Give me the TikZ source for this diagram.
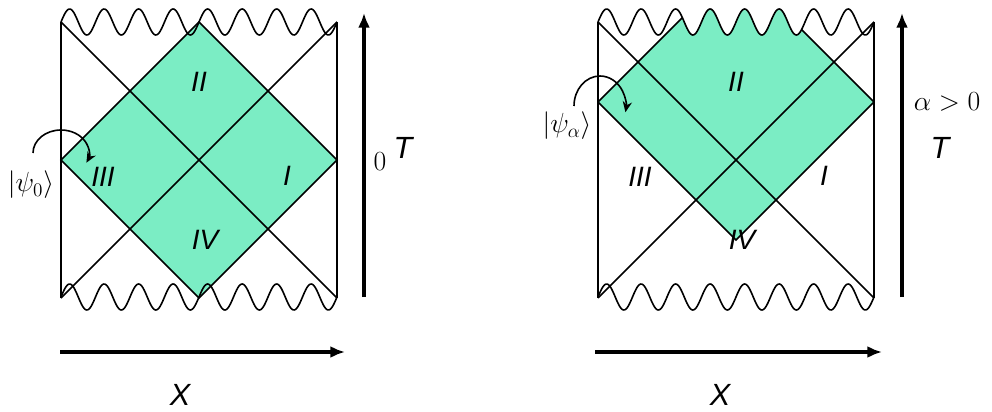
\documentclass[tikz,border=0pt]{standalone}
\usepackage{fontspec}
\newfontfamily\helv{Liberation Sans}
\usetikzlibrary{arrows.meta}
\definecolor{regiongreen}{RGB}{123,237,196}

\begin{document}
\begin{tikzpicture}[x=0.75pt,y=0.75pt,
  diag/.style={line width=1.2pt},
  axis/.style={line width=2.5pt,-{Latex[length=11pt,width=9pt]}},
  turn/.style={line width=1.2pt,-{Stealth[length=8pt,width=7pt]}},
  region/.style={font=\helv\itshape\fontsize{21}{25}\selectfont},
  axislabel/.style={font=\helv\itshape\fontsize{23}{27}\selectfont},
  mathlabel/.style={font=\fontsize{22}{26}\selectfont}]
\useasboundingbox (0,0) rectangle (992,411);

% alpha = 0
\begin{scope}[shift={(61,113)}]
\fill[regiongreen] (0,138) -- (138,276) -- (276,138) -- (138,0) -- cycle;
\draw[diag] (0,138) -- (138,276) -- (276,138) -- (138,0) -- cycle;
\draw[diag] (0,0) -- (0,276);
\draw[diag] (276,0) -- (276,276);
\draw[diag] (0,0) -- (276,276);
\draw[diag] (0,276) -- (276,0);
\draw[diag] plot[domain=0:276,samples=240,smooth] (\x,{276+13*sin(\x*10.43478)});
\draw[diag] plot[domain=0:276,samples=240,smooth] (\x,{1+13*sin(\x*10.43478)});
\node[region] (lII) at (138,216) {II};
\node[region] (lIII) at (42,121) {III};
\node[region] (lI) at (226,122) {I};
\node[region] (lIV) at (144,58) {IV};
\draw[turn] (-28,145) arc[start angle=180,end angle=-25,x radius=28,y radius=23];
\node[mathlabel] (lket) at (-30,113) {$|\psi_0\rangle$};
\draw[axis] (303,1) -- (303,285);
\draw[axis] (-1,-54) -- (284,-54);
\node[mathlabel] (lzero) at (319,136) {$0$};
\node[axislabel] (lT) at (342,150) {T};
\node[axislabel] (lX) at (119,-97) {X};
\end{scope}

% alpha > 0
\begin{scope}[shift={(598,113)}]
\begin{scope}
\clip (0,0) -- plot[domain=0:276,samples=240,smooth] (\x,{276+13*sin(\x*10.43478)}) -- (276,0) -- cycle;
\fill[regiongreen] (0,196) -- (138,334) -- (276,196) -- (138,58) -- cycle;
\draw[diag] (0,196) -- (138,334) -- (276,196) -- (138,58) -- cycle;
\end{scope}
\draw[diag] (0,0) -- (0,276);
\draw[diag] (276,0) -- (276,276);
\draw[diag] (0,0) -- (276,276);
\draw[diag] (0,276) -- (276,0);
\draw[diag] plot[domain=0:276,samples=240,smooth] (\x,{276+13*sin(\x*10.43478)});
\draw[diag] plot[domain=0:276,samples=240,smooth] (\x,{1+13*sin(\x*10.43478)});
\node[region] (rII) at (138,216) {II};
\node[region] (rIII) at (42,121) {III};
\node[region] (rI) at (226,122) {I};
\node[region] (rIV) at (144,58) {IV};
\draw[turn] (-24,192) arc[start angle=180,end angle=-12,x radius=26,y radius=30];
\node[mathlabel] (rket) at (-31,172) {$|\psi_\alpha\rangle$};
\draw[axis] (304,1) -- (304,285);
\draw[axis] (-3,-54) -- (284,-54);
\node[mathlabel] (ralpha) at (349,196) {$\alpha>0$};
\node[axislabel] (rT) at (342,150) {T};
\node[axislabel] (rX) at (122,-97) {X};
\end{scope}
\end{tikzpicture}
\end{document}
